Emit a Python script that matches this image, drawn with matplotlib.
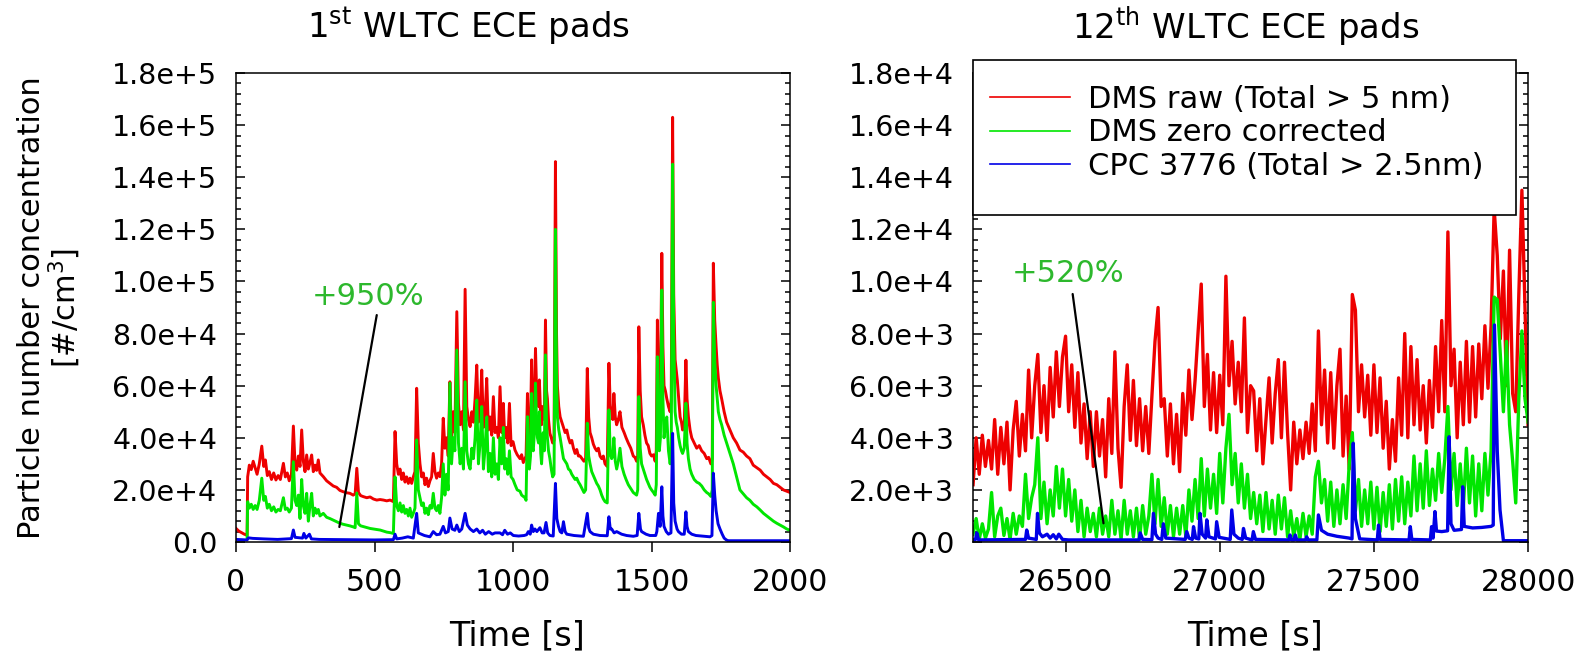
import matplotlib
matplotlib.use('Agg')
import matplotlib.pyplot as plt
from matplotlib.patches import Rectangle
from matplotlib.ticker import MultipleLocator, FuncFormatter

# --- data: (time [s], concentration [#/cm3]) ---
# 1st WLTC
red1 = [(0, 5200), (10, 4200), (20, 3600), (30, 3000), (40, 2600), (42, 25000), (48, 29500), (55, 27800), (62, 31000),
        (69, 28500), (76, 26000), (84, 30000), (93, 36800), (100, 29000), (106, 31500), (113, 25500), (120, 27000),
        (128, 24000), (136, 26500), (144, 23800), (152, 25500), (160, 24000), (171, 30200), (178, 25000), (185, 26500),
        (192, 23500), (200, 26000), (207, 44500), (213, 30000), (219, 27600), (225, 33000), (231, 29000), (237, 43000),
        (243, 31000), (249, 27000), (255, 33400), (261, 28000), (267, 30500), (273, 33400), (279, 27000), (285, 29500),
        (291, 27500), (297, 31500), (303, 26500), (315, 25100), (327, 23500), (339, 22500), (351, 21500), (363, 21000),
        (375, 19800), (387, 19300), (399, 18900), (411, 18700), (423, 18000), (430, 18500), (436, 28300), (442, 19000),
        (450, 17800), (460, 17400), (472, 17000), (484, 17300), (496, 16500), (508, 16100), (520, 16300), (532, 16100),
        (544, 15800), (556, 16100), (568, 15500), (574, 42400), (580, 30000), (586, 26000), (592, 28000), (598, 24000),
        (604, 26500), (610, 23000), (616, 25000), (622, 22500), (628, 24500), (634, 22500), (640, 25000), (646, 27000),
        (652, 59000), (658, 38000), (664, 30000), (670, 25000), (676, 26500), (682, 22000), (688, 24500), (694, 21300),
        (700, 23500), (706, 25000), (712, 34000), (718, 27000), (724, 24500), (730, 26500), (736, 25100), (742, 30000),
        (748, 47500), (754, 36000), (760, 40000), (766, 33000), (772, 61500), (778, 40000), (784, 50000), (790, 42000),
        (797, 88400), (803, 53200), (809, 45000), (815, 50000), (821, 43000), (827, 97000), (833, 52000), (839, 47000),
        (845, 44300), (851, 50000), (857, 46000), (863, 55000), (869, 67900), (875, 46000), (881, 50000), (887, 66000),
        (893, 44000), (899, 49000), (905, 62800), (911, 43000), (917, 48000), (923, 41000), (929, 55800), (935, 42000),
        (941, 44000), (947, 40000), (953, 59600), (959, 42000), (965, 53200), (970, 40000), (975, 44000), (981, 38000),
        (987, 53200), (993, 37000), (1000, 38500), (1007, 35300), (1015, 33500), (1025, 32000), (1031, 33500),
        (1037, 30500), (1043, 32000), (1047, 33000), (1052, 57000), (1056, 42000), (1059, 40000), (1063, 45000),
        (1067, 69900), (1070, 48000), (1073, 50000), (1077, 55000), (1081, 74300), (1085, 58000), (1088, 55000),
        (1092, 52000), (1095, 62200), (1100, 47000), (1103, 45000), (1106, 52000), (1109, 50000), (1113, 47000),
        (1117, 85200), (1121, 58000), (1124, 55000), (1128, 47000), (1133, 41700), (1138, 40000), (1143, 38000),
        (1148, 39000), (1153, 146000), (1157, 80000), (1160, 60000), (1165, 52000), (1170, 48000), (1176, 46000),
        (1182, 44000), (1188, 42000), (1194, 43000), (1200, 40000), (1206, 38000), (1212, 39000), (1218, 36000),
        (1224, 34000), (1230, 35500), (1236, 33000), (1242, 33000), (1249, 32000), (1256, 31000), (1262, 32000),
        (1268, 66600), (1273, 48000), (1278, 42000), (1284, 40000), (1290, 37500), (1296, 36000), (1302, 35000),
        (1308, 36000), (1314, 33000), (1320, 32000), (1326, 33000), (1332, 30000), (1340, 29000), (1346, 68600),
        (1351, 52000), (1356, 50000), (1360, 47000), (1364, 57000), (1369, 48000), (1374, 45000), (1380, 47000),
        (1386, 50000), (1393, 44000), (1401, 42000), (1408, 40000), (1416, 38000), (1425, 36000), (1434, 33000),
        (1440, 32500), (1446, 31000), (1450, 33000), (1454, 82600), (1459, 58000), (1464, 48000), (1470, 45000),
        (1476, 41000), (1482, 38000), (1488, 37000), (1494, 34000), (1500, 33000), (1507, 33500), (1513, 31000),
        (1517, 35000), (1521, 85200), (1525, 60000), (1528, 55000), (1532, 60000), (1537, 110800), (1541, 75000),
        (1545, 60000), (1550, 58000), (1555, 55000), (1561, 52000), (1567, 50000), (1571, 55000), (1576, 163000),
        (1580, 95000), (1585, 70000), (1589, 66000), (1593, 62000), (1598, 55000), (1603, 48000), (1608, 46000),
        (1612, 43000), (1618, 45000), (1624, 69800), (1628, 55000), (1633, 48000), (1639, 43000), (1645, 40000),
        (1654, 38000), (1663, 36000), (1672, 37000), (1681, 35000), (1690, 34000), (1699, 32000), (1706, 32500),
        (1714, 30000), (1719, 32000), (1723, 107000), (1728, 85000), (1733, 75000), (1737, 68000), (1741, 63000),
        (1747, 58000), (1753, 55000), (1762, 50000), (1771, 46000), (1783, 43000), (1795, 40000), (1807, 38000),
        (1819, 35300), (1831, 34500), (1843, 33000), (1855, 32000), (1867, 29500), (1880, 28500), (1892, 27600),
        (1904, 26000), (1916, 25000), (1928, 24000), (1940, 22500), (1952, 22000), (1964, 21000), (1976, 20000),
        (1988, 19500), (2000, 19000)]

green1 = [(40, 1500), (42, 15500), (48, 13000), (55, 14500), (62, 12500), (69, 14000), (76, 12500), (84, 16000),
          (93, 24500), (100, 16000), (106, 17500), (113, 13000), (120, 14500), (128, 12000), (136, 13500), (144, 11500),
          (152, 12500), (160, 12000), (171, 17000), (178, 12500), (185, 13000), (192, 11500), (200, 13000), (207, 30800),
          (213, 16000), (219, 14000), (225, 18000), (231, 9000), (237, 24000), (243, 14000), (249, 11000), (255, 18700),
          (261, 8000), (267, 14000), (273, 18700), (279, 10000), (285, 13000), (291, 11000), (297, 12500), (303, 10000),
          (315, 11000), (327, 9500), (339, 9000), (351, 8400), (363, 7800), (375, 7200), (387, 6800), (399, 6500),
          (411, 6200), (423, 5800), (430, 5500), (436, 18800), (442, 7000), (450, 6200), (460, 5900), (472, 5500),
          (484, 5200), (496, 5000), (508, 4800), (520, 4600), (532, 4200), (544, 3800), (556, 3600), (568, 3300),
          (574, 25000), (580, 14000), (586, 12000), (592, 15000), (598, 11500), (604, 14000), (610, 11000), (616, 12500),
          (622, 10000), (628, 13000), (634, 9500), (640, 11000), (646, 13000), (652, 39200), (658, 20000), (664, 17000),
          (670, 14000), (676, 15000), (682, 11000), (688, 13000), (694, 10500), (700, 14000), (706, 13000), (712, 18700),
          (718, 13000), (724, 12000), (730, 14000), (736, 11000), (742, 17000), (748, 30000), (754, 18000), (760, 26000),
          (766, 20000), (772, 61000), (778, 30000), (784, 40000), (790, 35000), (797, 73700), (803, 38000), (809, 30000),
          (815, 36000), (821, 28000), (827, 61500), (833, 35000), (839, 30000), (845, 28000), (851, 36000), (857, 32000),
          (863, 40000), (869, 54500), (875, 30000), (881, 38000), (887, 52000), (893, 28000), (899, 36000), (905, 48000),
          (911, 27000), (917, 34000), (923, 25000), (929, 40000), (935, 26000), (941, 30000), (947, 24000), (953, 40000),
          (959, 30000), (965, 44000), (970, 28000), (975, 32000), (981, 26000), (987, 35000), (993, 25000), (1000, 24000),
          (1007, 22000), (1015, 20000), (1025, 19500), (1031, 18000), (1037, 17500), (1043, 17000), (1047, 16000),
          (1052, 48100), (1056, 30000), (1059, 28000), (1063, 33000), (1067, 57000), (1070, 36000), (1073, 35000),
          (1077, 42000), (1081, 61000), (1085, 45000), (1088, 40000), (1092, 38000), (1095, 50000), (1100, 34000),
          (1103, 30000), (1106, 36000), (1109, 42000), (1113, 35000), (1117, 71800), (1121, 45000), (1124, 40000),
          (1128, 35000), (1133, 32000), (1138, 28000), (1143, 25000), (1148, 26000), (1153, 120000), (1157, 65000),
          (1160, 48000), (1165, 43000), (1170, 40000), (1176, 36000), (1182, 32000), (1188, 31000), (1194, 30000),
          (1200, 28000), (1206, 27500), (1212, 26000), (1218, 25000), (1224, 24000), (1230, 24500), (1236, 23000),
          (1242, 22000), (1249, 20500), (1256, 19000), (1262, 20000), (1268, 45600), (1273, 33000), (1278, 30000),
          (1284, 27000), (1290, 25500), (1296, 24000), (1302, 22500), (1308, 21500), (1314, 20000), (1320, 18000),
          (1326, 16500), (1332, 15500), (1340, 15000), (1346, 50700), (1351, 34000), (1356, 32000), (1360, 33000),
          (1364, 40000), (1369, 31000), (1374, 28000), (1380, 31000), (1386, 36000), (1393, 29000), (1401, 26000),
          (1408, 24000), (1416, 22000), (1425, 20500), (1434, 19000), (1440, 18500), (1446, 18000), (1450, 20000),
          (1454, 55800), (1459, 36000), (1464, 30000), (1470, 28000), (1476, 26000), (1482, 24000), (1488, 22500),
          (1494, 21000), (1500, 20000), (1507, 19000), (1513, 18000), (1517, 22000), (1521, 71100), (1525, 42000),
          (1528, 35000), (1532, 40000), (1537, 96700), (1541, 55000), (1545, 40000), (1550, 45000), (1555, 48000),
          (1561, 35000), (1567, 30000), (1571, 35000), (1576, 145000), (1580, 80000), (1585, 50000), (1589, 46000),
          (1593, 44000), (1598, 40000), (1603, 37000), (1608, 35000), (1612, 34000), (1618, 36000), (1624, 53300),
          (1628, 38000), (1633, 32000), (1639, 28000), (1645, 26000), (1654, 24000), (1663, 23000), (1672, 22500),
          (1681, 21500), (1690, 20000), (1699, 19000), (1706, 18500), (1714, 17500), (1719, 20000), (1723, 92000),
          (1728, 70000), (1733, 60000), (1737, 55000), (1741, 50000), (1747, 47000), (1753, 45000), (1762, 41000),
          (1771, 38000), (1783, 34000), (1795, 30000), (1807, 25000), (1819, 20000), (1831, 18500), (1843, 17000),
          (1855, 16000), (1867, 14500), (1880, 13500), (1892, 12300), (1904, 11000), (1916, 10000), (1928, 9000),
          (1940, 8000), (1952, 7200), (1964, 6500), (1976, 5800), (1988, 5000), (2000, 4500)]

blue1 = [(0, 1000), (40, 800), (45, 1600), (60, 1400), (100, 1200), (150, 1000), (200, 1300), (207, 4600), (213, 1800),
         (240, 1500), (245, 3300), (252, 1500), (265, 3000), (272, 1200), (300, 1000), (400, 900), (500, 800), (568, 900),
         (574, 3000), (580, 1200), (600, 1500), (620, 2000), (640, 1500), (652, 11000), (658, 3500), (680, 2500),
         (700, 2000), (712, 4000), (724, 2800), (736, 3000), (748, 6000), (756, 3500), (766, 4000), (772, 9200),
         (780, 5000), (790, 4500), (797, 6500), (806, 4000), (815, 5000), (827, 11000), (835, 6500), (845, 5000),
         (857, 4000), (869, 5000), (880, 3500), (890, 4500), (900, 3000), (912, 4000), (925, 3000), (935, 3500),
         (953, 3500), (962, 2800), (970, 4500), (980, 3000), (990, 3500), (1001, 2500), (1020, 2300), (1040, 2500),
         (1049, 2800), (1055, 4000), (1062, 3000), (1067, 6500), (1073, 4000), (1079, 5000), (1086, 4000), (1097, 5500),
         (1105, 3500), (1112, 3500), (1119, 7500), (1125, 3500), (1133, 2500), (1145, 2300), (1153, 22500), (1158, 9000),
         (1164, 6000), (1170, 4000), (1176, 3500), (1182, 7800), (1188, 4000), (1194, 3000), (1220, 2500), (1254, 2200),
         (1268, 11000), (1273, 5500), (1278, 4000), (1290, 3000), (1314, 2500), (1340, 2400), (1346, 9700), (1351, 5000),
         (1356, 5000), (1365, 3500), (1374, 4000), (1392, 3000), (1410, 2500), (1434, 2200), (1448, 2500), (1454, 11000),
         (1460, 5000), (1464, 4000), (1480, 3000), (1494, 2500), (1515, 2500), (1519, 4000), (1525, 11000), (1531, 6000),
         (1537, 21200), (1541, 10000), (1545, 6000), (1553, 4000), (1561, 3000), (1570, 3500), (1576, 41700),
         (1580, 15000), (1585, 8000), (1592, 5000), (1597, 4000), (1608, 3000), (1618, 3000), (1624, 11600), (1628, 6000),
         (1633, 4000), (1645, 3000), (1660, 2500), (1690, 2200), (1711, 2000), (1718, 2500), (1723, 26400), (1728, 18000),
         (1733, 12000), (1740, 7000), (1747, 5000), (1755, 3000), (1762, 1500), (1770, 800), (1777, 500), (2000, 500)]

# 12th WLTC
red2 = [(26200, 2200), (26210, 4000), (26220, 2600), (26230, 4100), (26240, 2900), (26250, 3900), (26260, 2800),
        (26270, 4700), (26280, 2600), (26290, 4400), (26300, 3000), (26310, 4600), (26320, 2000), (26330, 4300),
        (26340, 5400), (26350, 3300), (26360, 4900), (26370, 3500), (26380, 6600), (26390, 4000), (26400, 6000),
        (26410, 7200), (26420, 4200), (26430, 6000), (26440, 3900), (26450, 6700), (26460, 4800), (26470, 7300),
        (26480, 5200), (26490, 7100), (26500, 7900), (26510, 5000), (26520, 6800), (26530, 4400), (26540, 6500),
        (26550, 3800), (26560, 5300), (26570, 3200), (26580, 5000), (26590, 2900), (26600, 5000), (26610, 3300),
        (26620, 4700), (26630, 2500), (26640, 5500), (26650, 3400), (26660, 7300), (26670, 3600), (26680, 2100),
        (26690, 5200), (26700, 6800), (26710, 3900), (26720, 6200), (26730, 3700), (26740, 5500), (26750, 3500),
        (26760, 5200), (26770, 3400), (26780, 5600), (26790, 7700), (26800, 9000), (26810, 5200), (26820, 5500),
        (26830, 3300), (26840, 5300), (26850, 3000), (26860, 4900), (26870, 2700), (26880, 5700), (26890, 4100),
        (26900, 6600), (26910, 4700), (26920, 6200), (26930, 8100), (26940, 9900), (26950, 5200), (26960, 7200),
        (26970, 4300), (26980, 6500), (26990, 4200), (27000, 6400), (27010, 4500), (27020, 10200), (27030, 6000),
        (27040, 7700), (27050, 5300), (27060, 6900), (27070, 5000), (27080, 8600), (27090, 4200), (27100, 6000),
        (27110, 5800), (27120, 3500), (27130, 5500), (27140, 3000), (27150, 4700), (27160, 6300), (27170, 3800),
        (27180, 5700), (27190, 7000), (27200, 4000), (27210, 6900), (27220, 4200), (27230, 2000), (27240, 4600),
        (27250, 3000), (27260, 4300), (27270, 3200), (27280, 4600), (27290, 3400), (27300, 5300), (27310, 3500),
        (27320, 8100), (27330, 4500), (27340, 6600), (27350, 3800), (27360, 6500), (27370, 3600), (27380, 6000),
        (27390, 7400), (27400, 3300), (27410, 5600), (27420, 2800), (27430, 9500), (27440, 8900), (27450, 5000),
        (27460, 6800), (27470, 4800), (27480, 6400), (27490, 4100), (27500, 6800), (27510, 4200), (27520, 6300),
        (27530, 3600), (27540, 5400), (27550, 2800), (27560, 4700), (27570, 3100), (27580, 6300), (27590, 4100),
        (27600, 8000), (27610, 4000), (27620, 7500), (27630, 4500), (27640, 7000), (27650, 4300), (27660, 6000),
        (27670, 3800), (27680, 6200), (27690, 4400), (27700, 7500), (27710, 5000), (27720, 8500), (27730, 5000),
        (27740, 11900), (27750, 6000), (27760, 7400), (27770, 4000), (27780, 6900), (27790, 4500), (27800, 7700),
        (27810, 4600), (27820, 7500), (27830, 4800), (27840, 7600), (27850, 5500), (27860, 8300), (27870, 5900),
        (27880, 8300), (27890, 12800), (27900, 11000), (27910, 7800), (27920, 10400), (27930, 6000), (27940, 11200),
        (27950, 5700), (27960, 5000), (27970, 9500), (27980, 13500), (27990, 9000), (28000, 4500)]

green2 = [(26200, 300), (26210, 900), (26220, 100), (26230, 700), (26240, 150), (26250, 500), (26260, 1900),
          (26270, 200), (26280, 1000), (26290, 1300), (26300, 250), (26310, 900), (26320, 100), (26330, 1100),
          (26340, 300), (26350, 1000), (26360, 600), (26370, 2600), (26380, 900), (26390, 1700), (26400, 2200),
          (26410, 4000), (26420, 900), (26430, 2300), (26440, 700), (26450, 2000), (26460, 1000), (26470, 2900),
          (26480, 1300), (26490, 2800), (26500, 1000), (26510, 2400), (26520, 800), (26530, 2000), (26540, 400),
          (26550, 1600), (26560, 200), (26570, 1300), (26580, 400), (26590, 1100), (26600, 200), (26610, 1300),
          (26620, 300), (26630, 1000), (26640, 200), (26650, 1600), (26660, 300), (26670, 1200), (26680, 100),
          (26690, 1600), (26700, 300), (26710, 1200), (26720, 200), (26730, 1300), (26740, 100), (26750, 1400),
          (26760, 300), (26770, 1000), (26780, 2600), (26790, 700), (26800, 2400), (26810, 600), (26820, 1700),
          (26830, 300), (26840, 1400), (26850, 200), (26860, 1300), (26870, 300), (26880, 1400), (26890, 200),
          (26900, 2000), (26910, 800), (26920, 2400), (26930, 900), (26940, 3200), (26950, 1000), (26960, 2800),
          (26970, 1300), (26980, 2600), (26990, 1100), (27000, 3400), (27010, 1500), (27020, 3600), (27030, 4900),
          (27040, 2200), (27050, 3400), (27060, 1500), (27070, 3000), (27080, 1300), (27090, 2600), (27100, 900),
          (27110, 1900), (27120, 700), (27130, 1800), (27140, 400), (27150, 1900), (27160, 500), (27170, 1600),
          (27180, 300), (27190, 1800), (27200, 500), (27210, 1700), (27220, 200), (27230, 1200), (27240, 200),
          (27250, 900), (27260, 100), (27270, 1100), (27280, 200), (27290, 1000), (27300, 300), (27310, 2500),
          (27320, 3100), (27330, 1500), (27340, 2400), (27350, 800), (27360, 2300), (27370, 600), (27380, 2000),
          (27390, 700), (27400, 2200), (27410, 900), (27420, 3000), (27430, 4200), (27440, 1200), (27450, 2400),
          (27460, 600), (27470, 2000), (27480, 700), (27490, 2300), (27500, 500), (27510, 2100), (27520, 400),
          (27530, 1900), (27540, 600), (27550, 2200), (27560, 500), (27570, 2400), (27580, 800), (27590, 2500),
          (27600, 700), (27610, 2300), (27620, 1000), (27630, 3300), (27640, 1200), (27650, 3000), (27660, 1300),
          (27670, 3500), (27680, 1400), (27690, 2800), (27700, 1600), (27710, 3400), (27720, 1900), (27730, 3200),
          (27740, 5200), (27750, 2000), (27760, 3400), (27770, 1400), (27780, 3000), (27790, 1300), (27800, 3600),
          (27810, 1500), (27820, 3300), (27830, 1000), (27840, 3000), (27850, 1200), (27860, 3400), (27870, 1800),
          (27880, 3500), (27890, 9400), (27900, 9300), (27910, 7200), (27920, 5000), (27930, 7700), (27940, 4500),
          (27950, 3100), (27960, 1500), (27970, 5500), (27980, 8100), (27990, 5500), (28000, 4600)]

blue2 = [(26200, 80), (26208, 100), (26212, 350), (26218, 80), (26370, 100), (26374, 460), (26380, 150), (26405, 100),
         (26409, 1100), (26415, 350), (26425, 200), (26440, 300), (26450, 150), (26460, 280), (26470, 120), (26478, 300),
         (26490, 100), (26510, 80), (26738, 80), (26742, 350), (26750, 100), (26780, 90), (26785, 1100), (26792, 300),
         (26800, 150), (26812, 100), (26817, 700), (26825, 150), (26888, 100), (26893, 400), (26900, 150), (26911, 100),
         (26915, 590), (26922, 150), (26932, 120), (26936, 1100), (26943, 300), (26954, 150), (26958, 850), (26965, 200),
         (26986, 120), (26990, 780), (26998, 180), (27034, 100), (27039, 1230), (27046, 300), (27060, 150), (27073, 100),
         (27077, 520), (27084, 150), (27105, 80), (27109, 400), (27116, 100), (27224, 80), (27228, 270), (27233, 80),
         (27241, 80), (27245, 270), (27250, 80), (27278, 80), (27282, 200), (27287, 80), (27315, 80), (27320, 1040),
         (27330, 450), (27350, 300), (27380, 220), (27420, 150), (27429, 120), (27433, 3790), (27440, 900), (27454, 120),
         (27511, 80), (27515, 650), (27520, 100), (27614, 80), (27618, 590), (27623, 100), (27683, 80), (27687, 590),
         (27692, 150), (27698, 1170), (27703, 420), (27720, 400), (27739, 430), (27744, 4040), (27750, 700), (27760, 450),
         (27784, 480), (27788, 2120), (27793, 600), (27820, 540), (27850, 560), (27880, 600), (27887, 650), (27891, 8330),
         (27900, 3500), (27909, 1230), (27920, 50), (28000, 50)]

labels = ['DMS raw (Total > 5 nm)', 'DMS zero corrected', 'CPC 3776 (Total > 2.5nm)']
colors = ['#ee0000', '#00e600', '#0000e6']
titles = ['1$^{\\mathrm{st}}$ WLTC ECE pads', '12$^{\\mathrm{th}}$ WLTC ECE pads']
notes = ['+950%', '+520%']


def sci(v, pos):
    if v == 0:
        return '0.0'
    m, e = f'{v:.1e}'.split('e')
    return f'{m}e+{int(e)}'


plt.rcParams['font.family'] = 'DejaVu Sans'
plt.rcParams['mathtext.fontset'] = 'dejavusans'

fig = plt.figure(figsize=(15.83, 6.68), dpi=100)
ax1 = fig.add_axes([0.1491, 0.1886, 0.350, 0.7021])
ax2 = fig.add_axes([0.6147, 0.1886, 0.3506, 0.7021])

for ax, series, lw in [(ax1, [red1, green1, blue1], 2.1), (ax2, [red2, green2, blue2], 2.4)]:
    for s, c, lab in zip(series, colors, labels):
        t, v = zip(*s)
        ax.plot(t, v, color=c, lw=lw, label=lab)

ax1.set_xlim(0, 2000)
ax1.set_ylim(0, 1.8e5)
ax1.xaxis.set_major_locator(MultipleLocator(500))
ax1.yaxis.set_major_locator(MultipleLocator(2e4))
ax1.yaxis.set_minor_locator(MultipleLocator(4e3))

ax2.set_xlim(26200, 28000)
ax2.set_ylim(0, 1.8e4)
ax2.xaxis.set_major_locator(MultipleLocator(500))
ax2.yaxis.set_major_locator(MultipleLocator(2e3))
ax2.yaxis.set_minor_locator(MultipleLocator(4e2))

for ax in (ax1, ax2):
    ax.yaxis.set_major_formatter(FuncFormatter(sci))
    ax.tick_params(axis='y', which='both', direction='in', left=True, right=True,
                   labelsize=20.5, pad=13.5, width=1.1)
    ax.tick_params(axis='y', which='major', length=6.5)
    ax.tick_params(axis='y', which='minor', length=3.5)
    ax.tick_params(axis='x', which='major', direction='out', length=7, width=1.1,
                   labelsize=21.5, pad=12, top=False)
    for sp in ax.spines.values():
        sp.set_linewidth(1.1)

# annotations
ax1.annotate('', xy=(373, 5760), xytext=(508, 87100),
             arrowprops=dict(arrowstyle='-', color='black', lw=1.6, shrinkA=0, shrinkB=0))
ax1.text(478, 94400, notes[0], color='#2db82d', fontsize=22, ha='center', va='center')
ax2.annotate('', xy=(26623, 718), xytext=(26523, 9518),
             arrowprops=dict(arrowstyle='-', color='black', lw=1.6, shrinkA=0, shrinkB=0))
ax2.text(26508, 10300, notes[1], color='#2db82d', fontsize=22, ha='center', va='center')

# legend box sticks out a little above the axes, as in the original
box = Rectangle((0.0, 0.697), 0.978, 0.331, transform=ax2.transAxes, facecolor='white',
                edgecolor='black', lw=1.2, clip_on=False, zorder=4)
ax2.add_patch(box)
leg = ax2.legend(loc='upper left', bbox_to_anchor=(0.031, 0.975), borderaxespad=0, borderpad=0,
                 frameon=False, fontsize=22, labelspacing=0.15, handlelength=2.6, handletextpad=0.6)
leg.set_zorder(5)
for h in leg.get_lines():
    h.set_linewidth(1.2)

fig.text(468 / 1583, 1 - 27 / 668, titles[0], fontsize=24.5, ha='center', va='center')
fig.text(1246 / 1583, 1 - 27 / 668, titles[1], fontsize=24.5, ha='center', va='center')
fig.text(517 / 1583, 1 - 636 / 668, 'Time [s]', fontsize=24, ha='center', va='center')
fig.text(1255 / 1583, 1 - 636 / 668, 'Time [s]', fontsize=24, ha='center', va='center')
fig.text(50 / 1583, 1 - 308 / 668, 'Particle number concentration\n[#/cm$^3$]', fontsize=22,
         ha='center', va='center', rotation=90, multialignment='center', linespacing=1.05)

fig.savefig('out.png', dpi=100)
